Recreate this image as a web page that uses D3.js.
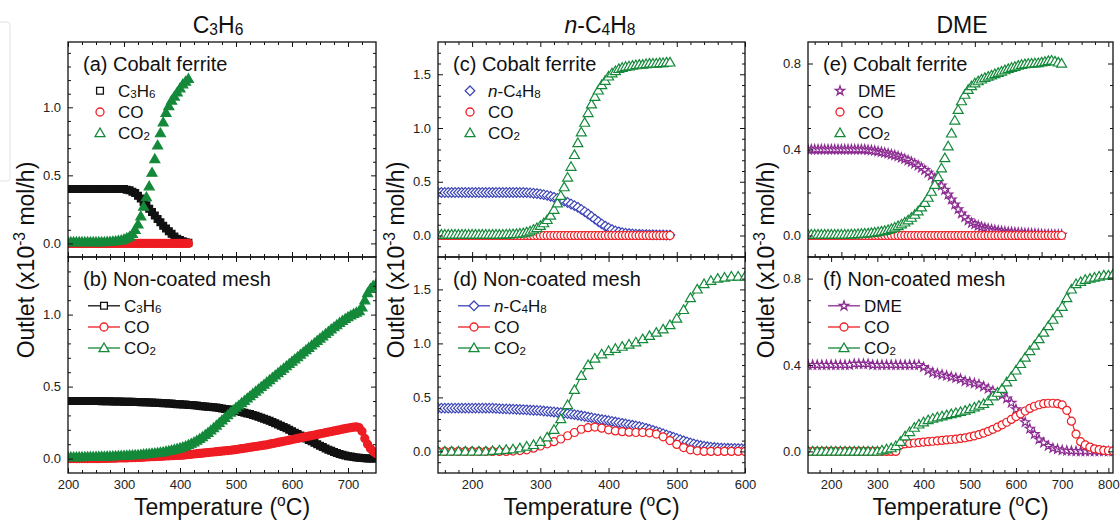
<!DOCTYPE html>
<html><head><meta charset="utf-8">
<script src="https://cdn.jsdelivr.net/npm/d3@7"></script>
<style>
body{margin:0;background:#fff;}
svg{display:block;font-family:"Liberation Sans",Arial,sans-serif;}
text{white-space:pre;}
</style></head><body>
<svg id="chart" width="1120" height="520"></svg>
<script>
// ---------------- DATA ----------------
// Panel (a) C3H6, cobalt ferrite (temperature grid, degC)
const tempA = d3.range(200, 416, 5);
const aC3H6 = [0.40,0.40,0.40,0.40,0.40,0.40,0.40,0.40,0.40,0.40,
  0.40,0.40,0.40,0.40,0.40,0.40,0.40,0.40,0.40,0.40,
  0.40,0.395,0.39,0.38,0.37,0.35,0.33,0.305,0.28,0.255,
  0.23,0.205,0.18,0.155,0.13,0.11,0.09,0.07,0.05,0.035,
  0.025,0.015,0.008,0.004];
const aCO = [0,0,0,0,0,0,0,0,0,0,
  0,0,0,0,0,0,0,0,0,0,
  0,0,0,0,0,0,0,0,0,0,
  0,0,0,0,0,0,0,0,0,0,
  0,0,0,0];
const aCO2 = [0.01,0.01,0.01,0.01,0.01,0.01,0.01,0.01,0.01,0.01,
  0.01,0.01,0.01,0.01,0.012,0.013,0.015,0.017,0.02,0.023,
  0.03,0.04,0.05,0.07,0.1,0.14,0.2,0.27,0.34,0.42,
  0.52,0.62,0.72,0.81,0.89,0.96,1.01,1.05,1.08,1.11,
  1.14,1.17,1.19,1.21];

// Panel (b) C3H6, non-coated mesh
const tempB = d3.range(200, 751, 5);
const bC3H6 = [0.40,0.40,0.40,0.40,0.40,0.40,0.40,0.40,0.40,0.40,
  0.40,0.40,0.399,0.399,0.398,0.398,0.397,0.397,0.396,0.396,
  0.395,0.395,0.394,0.394,0.393,0.393,0.392,0.392,0.391,0.39,
  0.389,0.388,0.387,0.386,0.385,0.384,0.383,0.382,0.38,0.378,
  0.377,0.376,0.375,0.373,0.372,0.37,0.368,0.366,0.364,0.362,
  0.36,0.358,0.356,0.354,0.351,0.348,0.345,0.342,0.339,0.336,
  0.332,0.328,0.324,0.319,0.314,0.309,0.303,0.297,0.291,0.284,
  0.277,0.27,0.262,0.254,0.246,0.237,0.228,0.219,0.21,0.2,
  0.19,0.18,0.17,0.16,0.15,0.14,0.13,0.12,0.11,0.1,
  0.09,0.08,0.071,0.062,0.054,0.046,0.039,0.032,0.026,0.021,
  0.017,0.014,0.011,0.008,0.006,0.004,0.002,0.001,0,0,
  0];
const bCO = [0,0,0,0,0,0,0,0,0,0,
  0,0,0.001,0.001,0.002,0.002,0.003,0.003,0.004,0.004,
  0.005,0.005,0.006,0.006,0.007,0.008,0.009,0.01,0.011,0.012,
  0.013,0.014,0.015,0.016,0.017,0.018,0.019,0.02,0.021,0.022,
  0.023,0.024,0.026,0.028,0.03,0.032,0.034,0.036,0.038,0.04,
  0.042,0.044,0.046,0.048,0.05,0.052,0.054,0.056,0.058,0.06,
  0.063,0.066,0.069,0.072,0.075,0.078,0.081,0.084,0.087,0.09,
  0.093,0.096,0.1,0.104,0.108,0.112,0.116,0.12,0.124,0.128,
  0.132,0.136,0.14,0.144,0.148,0.152,0.156,0.16,0.164,0.168,
  0.172,0.176,0.18,0.184,0.188,0.192,0.196,0.2,0.204,0.208,
  0.212,0.215,0.218,0.22,0.215,0.19,0.14,0.1,0.07,0.05,
  0.035];
const bCO2 = [0.01,0.01,0.01,0.01,0.011,0.011,0.012,0.012,0.013,0.013,
  0.014,0.014,0.015,0.015,0.016,0.016,0.017,0.018,0.019,0.02,
  0.021,0.022,0.023,0.024,0.025,0.026,0.028,0.03,0.032,0.034,
  0.036,0.038,0.04,0.043,0.046,0.05,0.054,0.058,0.063,0.068,
  0.074,0.08,0.087,0.095,0.104,0.114,0.125,0.137,0.15,0.165,
  0.18,0.196,0.213,0.23,0.248,0.266,0.284,0.302,0.32,0.337,
  0.354,0.37,0.386,0.402,0.418,0.434,0.45,0.466,0.482,0.498,
  0.514,0.53,0.546,0.562,0.578,0.594,0.61,0.626,0.642,0.658,
  0.674,0.69,0.706,0.722,0.738,0.754,0.77,0.786,0.802,0.818,
  0.834,0.85,0.866,0.882,0.898,0.913,0.928,0.943,0.957,0.97,
  0.983,0.995,1.005,1.015,1.025,1.05,1.1,1.15,1.18,1.2,
  1.21];

// Panel (c) n-C4H8, cobalt ferrite
const tempC = d3.range(150, 491, 5);
const cC4H8 = [0.40,0.40,0.40,0.40,0.40,0.40,0.40,0.40,0.40,0.40,
  0.40,0.40,0.40,0.40,0.40,0.40,0.40,0.40,0.40,0.40,
  0.40,0.40,0.40,0.40,0.40,0.40,0.398,0.396,0.393,0.39,
  0.385,0.38,0.373,0.365,0.355,0.345,0.333,0.32,0.307,0.293,
  0.278,0.262,0.243,0.222,0.2,0.177,0.153,0.13,0.108,0.088,
  0.07,0.055,0.043,0.034,0.027,0.022,0.018,0.015,0.013,0.011,
  0.01,0.009,0.008,0.007,0.006,0.005,0.005,0.004,0.004];
const cCO = [0,0,0,0,0,0,0,0,0,0,
  0,0,0,0,0,0,0,0,0,0,
  0,0,0,0,0,0,0,0,0,0,
  0,0,0,0,0,0,0,0,0,0,
  0,0,0,0,0,0,0,0,0,0,
  0,0,0,0,0,0,0,0,0,0,
  0,0,0,0,0,0,0,0,0];
const cCO2 = [0.01,0.01,0.01,0.01,0.01,0.01,0.01,0.01,0.01,0.01,
  0.01,0.01,0.01,0.01,0.01,0.01,0.01,0.01,0.01,0.01,
  0.011,0.012,0.013,0.015,0.018,0.022,0.03,0.04,0.055,0.07,
  0.09,0.115,0.145,0.185,0.24,0.3,0.37,0.45,0.54,0.64,
  0.75,0.86,0.96,1.05,1.14,1.22,1.29,1.35,1.4,1.44,
  1.48,1.51,1.53,1.55,1.56,1.57,1.575,1.58,1.585,1.59,
  1.59,1.595,1.6,1.6,1.6,1.605,1.605,1.61,1.61];

// Panel (d) n-C4H8, non-coated mesh
const tempD5 = d3.range(150, 601, 5);
const tempD10 = d3.range(150, 601, 10);
const dC4H8 = [0.40,0.40,0.40,0.40,0.40,0.40,0.40,0.40,0.40,0.40,
  0.40,0.40,0.40,0.40,0.40,0.40,0.40,0.398,0.396,0.394,
  0.393,0.392,0.391,0.39,0.388,0.387,0.385,0.383,0.381,0.379,
  0.377,0.374,0.371,0.368,0.365,0.362,0.358,0.354,0.35,0.345,
  0.34,0.335,0.33,0.325,0.318,0.312,0.306,0.3,0.295,0.29,
  0.284,0.278,0.272,0.266,0.26,0.254,0.248,0.242,0.236,0.23,
  0.222,0.214,0.205,0.195,0.185,0.175,0.164,0.153,0.142,0.131,
  0.12,0.109,0.098,0.088,0.078,0.069,0.061,0.054,0.048,0.043,
  0.039,0.036,0.033,0.031,0.03,0.029,0.028,0.027,0.026,0.025,
  0.025];
const dCO = [0,0,0,0,0,0,0,0,0,0,
  0,0.003,0.008,0.015,0.03,0.05,0.07,0.09,0.115,0.145,
  0.175,0.205,0.22,0.225,0.215,0.2,0.19,0.183,0.178,0.175,
  0.175,0.172,0.16,0.135,0.1,0.065,0.035,0.015,0.005,0,
  0,0,0,0,0,0];
const dCO2 = [0,0,0,0,0,0,0,0,0.005,0.01,
  0.015,0.02,0.03,0.045,0.06,0.09,0.13,0.2,0.3,0.43,
  0.57,0.7,0.8,0.86,0.9,0.93,0.95,0.97,0.99,1.01,
  1.04,1.07,1.1,1.13,1.17,1.23,1.31,1.42,1.5,1.55,
  1.58,1.6,1.61,1.62,1.62,1.62];

// Panel (e) DME, cobalt ferrite
const tempE = d3.range(150, 531, 5);
const eDME = [0.40,0.40,0.40,0.40,0.40,0.40,0.40,0.40,0.40,0.40,
  0.40,0.40,0.40,0.40,0.40,0.40,0.40,0.40,0.398,0.396,
  0.394,0.391,0.388,0.385,0.381,0.377,0.373,0.368,0.362,0.356,
  0.349,0.342,0.334,0.325,0.315,0.304,0.292,0.279,0.265,0.25,
  0.232,0.212,0.19,0.167,0.144,0.122,0.102,0.085,0.07,0.058,
  0.052,0.045,0.04,0.035,0.031,0.028,0.025,0.022,0.02,0.018,
  0.016,0.015,0.014,0.013,0.012,0.011,0.01,0.009,0.008,0.007,
  0.006,0.005,0.005,0.004,0.004,0.003,0.003];
const eCO = [0,0,0,0,0,0,0,0,0,0,
  0,0,0,0,0,0,0,0,0,0,
  0,0,0,0,0,0,0,0,0,0,
  0,0,0,0,0,0,0,0,0,0,
  0,0,0,0,0,0,0,0,0,0,
  0,0,0,0,0,0,0,0,0,0,
  0,0,0,0,0,0,0,0,0,0,
  0,0,0,0,0,0,0];
const eCO2 = [0.005,0.005,0.005,0.005,0.005,0.005,0.005,0.005,0.005,0.005,
  0.005,0.005,0.005,0.006,0.006,0.007,0.008,0.009,0.01,0.012,
  0.014,0.016,0.019,0.022,0.026,0.031,0.037,0.044,0.052,0.061,
  0.071,0.083,0.097,0.113,0.131,0.152,0.176,0.204,0.236,0.272,
  0.313,0.36,0.415,0.475,0.535,0.585,0.625,0.655,0.678,0.695,
  0.708,0.718,0.726,0.733,0.739,0.745,0.751,0.757,0.763,0.769,
  0.775,0.78,0.785,0.79,0.794,0.797,0.799,0.8,0.801,0.802,
  0.805,0.808,0.812,0.814,0.81,0.805,0.80];

// Panel (f) DME, non-coated mesh
const tempF = d3.range(150, 811, 10);
const fDME = [0.40,0.40,0.40,0.40,0.40,0.40,0.40,0.40,0.40,0.40,
  0.405,0.405,0.405,0.405,0.40,0.40,0.40,0.40,0.40,0.40,
  0.40,0.40,0.40,0.40,0.40,0.39,0.375,0.365,0.36,0.355,
  0.35,0.345,0.34,0.335,0.325,0.32,0.315,0.31,0.30,0.29,
  0.28,0.27,0.26,0.245,0.225,0.195,0.165,0.135,0.105,0.08,
  0.055,0.04,0.025,0.015,0.01,0.005,0.003,0.002,0.001,0,
  0,0,0,0,0,0,0];
const fCO = [0,0,0,0,0,0,0,0,0,0,
  0,0,0,0,0,0,0,0,0,0,
  0.03,0.035,0.037,0.039,0.041,0.043,0.045,0.047,0.049,0.051,
  0.053,0.055,0.057,0.06,0.063,0.067,0.072,0.078,0.085,0.093,
  0.102,0.112,0.123,0.135,0.148,0.161,0.174,0.187,0.199,0.209,
  0.216,0.221,0.223,0.223,0.221,0.215,0.19,0.14,0.08,0.045,
  0.03,0.02,0.012,0.008,0.005,0.003,0.002];
const fCO2 = [0,0,0,0,0,0,0,0,0,0,
  0,0,0,0,0,0,0.005,0.01,0.015,0.025,
  0.045,0.07,0.09,0.11,0.125,0.135,0.145,0.152,0.158,0.163,
  0.168,0.173,0.178,0.183,0.189,0.196,0.204,0.212,0.22,0.233,
  0.255,0.272,0.29,0.32,0.345,0.375,0.405,0.435,0.465,0.49,
  0.52,0.55,0.58,0.61,0.64,0.67,0.71,0.75,0.775,0.785,
  0.795,0.8,0.805,0.81,0.815,0.815,0.82];

// Text
const columnTitles = ["C_3H_6", "~n~-C_4H_8", "DME"];
const panelLabels = ["(a) Cobalt ferrite","(b) Non-coated mesh","(c) Cobalt ferrite","(d) Non-coated mesh","(e) Cobalt ferrite","(f) Non-coated mesh"];
const yTitle = "Outlet (x10^{-3} mol/h)";
const xTitle = "Temperature (^{o}C)";

// ---------------- STYLE / LAYOUT ----------------
const C = {black:"#111111", red:"#ee1d23", green:"#14893a", blue:"#3d45b8", purple:"#8b2a91"};
const cols = [[68,376],[438,745],[808,1113]];
const rows = [[42,257],[257,473]];
const titleX = [218, 600, 962];

// fill: "solid" = marker filled with series colour (very dense overlapping symbols)
const panels = [
 {col:0,row:0,label:panelLabels[0],xd:[200,750],yd:[-0.1,1.48],xM:100,xm:25,yM:0.5,ym:0.1,showX:false,lines:false,fill:"solid",sw:1.2,
  series:[{n:"C_3H_6",s:"square",c:C.black,x:tempA,y:aC3H6},{n:"CO",s:"circle",c:C.red,x:tempA,y:aCO},{n:"CO_2",s:"triangle",c:C.green,x:tempA,y:aCO2}]},
 {col:0,row:1,label:panelLabels[1],xd:[200,750],yd:[-0.1,1.4],xM:100,xm:25,yM:0.5,ym:0.1,showX:true,lines:true,fill:"solid",sw:1.2,
  series:[{n:"C_3H_6",s:"square",c:C.black,x:tempB,y:bC3H6},{n:"CO",s:"circle",c:C.red,x:tempB,y:bCO},{n:"CO_2",s:"triangle",c:C.green,x:tempB,y:bCO2}]},
 {col:1,row:0,label:panelLabels[2],xd:[150,600],yd:[-0.2,1.8],xM:100,xm:20,yM:0.5,ym:0.1,showX:false,lines:false,fill:"#fff",sw:1.2,
  series:[{n:"~n~-C_4H_8",s:"diamond",c:C.blue,x:tempC,y:cC4H8},{n:"CO",s:"circle",c:C.red,x:tempC,y:cCO},{n:"CO_2",s:"triangle",c:C.green,x:tempC,y:cCO2}]},
 {col:1,row:1,label:panelLabels[3],xd:[150,600],yd:[-0.2,1.8],xM:100,xm:20,yM:0.5,ym:0.1,showX:true,lines:true,fill:"#fff",sw:1.2,
  series:[{n:"~n~-C_4H_8",s:"diamond",c:C.blue,x:tempD5,y:dC4H8},{n:"CO",s:"circle",c:C.red,x:tempD10,y:dCO},{n:"CO_2",s:"triangle",c:C.green,x:tempD10,y:dCO2}]},
 {col:2,row:0,label:panelLabels[4],xd:[150,607],yd:[-0.1,0.9],xM:100,xm:20,yM:0.4,ym:0.1,showX:false,lines:false,fill:"#fff",sw:1.2,
  series:[{n:"DME",s:"star",c:C.purple,x:tempE,y:eDME},{n:"CO",s:"circle",c:C.red,x:tempE,y:eCO},{n:"CO_2",s:"triangle",c:C.green,x:tempE,y:eCO2}]},
 {col:2,row:1,label:panelLabels[5],xd:[150,810],yd:[-0.1,0.9],xM:100,xm:25,yM:0.4,ym:0.1,showX:true,lines:true,fill:"#fff",sw:1.2,
  series:[{n:"DME",s:"star",c:C.purple,x:tempF,y:fDME},{n:"CO",s:"circle",c:C.red,x:tempF,y:fCO},{n:"CO_2",s:"triangle",c:C.green,x:tempF,y:fCO2}]}
];

// ---------------- HELPERS ----------------
function parseRich(str){
  const segs=[]; let i=0, ital=false;
  while(i<str.length){
    const ch=str[i];
    if(ch==='~'){ital=!ital;i++;continue;}
    if(ch==='_'){segs.push({t:str[i+1],m:'sub',ital});i+=2;continue;}
    if(ch==='^'){const j=str.indexOf('}',i);segs.push({t:str.slice(i+2,j),m:'sup',ital});i=j+1;continue;}
    let j=i; while(j<str.length && !'~_^'.includes(str[j])) j++;
    segs.push({t:str.slice(i,j),m:'n',ital}); i=j;
  }
  return segs;
}
function rich(sel, str, size){
  let off=0;
  parseRich(str).forEach(s=>{
    const target = s.m==='sub'? size*0.08 : s.m==='sup'? -size*0.4 : 0;
    const ts = sel.append('tspan').text(s.t).attr('dy', (target-off).toFixed(2));
    off = target;
    if(s.m!=='n') ts.attr('font-size', (size*0.68).toFixed(1));
    if(s.ital) ts.attr('font-style','italic');
  });
  return sel;
}
function markerPath(shape){
  switch(shape){
    case 'square': return "M-3.4,-3.4H3.4V3.4H-3.4Z";
    case 'circle': return "M4,0A4,4 0 1,1 -4,0A4,4 0 1,1 4,0Z";
    case 'triangle': return "M0,-5L5,3.6L-5,3.6Z";
    case 'diamond': return "M0,-4.8L4.8,0L0,4.8L-4.8,0Z";
    case 'star': return d3.symbol(d3.symbolStar, 26)();
  }
}
function tickVals(dom, step){
  const a=Math.ceil(dom[0]/step-1e-9), b=Math.floor(dom[1]/step+1e-9);
  return d3.range(a,b+1).map(k=>+(k*step).toFixed(6));
}

const svg = d3.select('#chart');
svg.append('rect').attr('width',1120).attr('height',520).attr('fill','#fff');
// faint screenshot frame artefact at far left
svg.append('rect').attr('x',-20).attr('y',22).attr('width',30).attr('height',159).attr('rx',3)
  .attr('fill','none').attr('stroke','#e2e2e2').attr('stroke-width',1);

panels.forEach((p,pi)=>{
  const [L,R]=cols[p.col], [T,B]=rows[p.row];
  const x=d3.scaleLinear().domain(p.xd).range([L,R]);
  const y=d3.scaleLinear().domain(p.yd).range([B,T]);
  const g=svg.append('g');
  const cid='clip'+pi;
  svg.append('clipPath').attr('id',cid).append('rect').attr('x',L).attr('y',T).attr('width',R-L).attr('height',B-T);
  const plot=g.append('g').attr('clip-path',`url(#${cid})`);
  p.series.forEach(s=>{
    const pts=s.x.map((t,i)=>[t,s.y[i]]).filter(d=>d[1]!==undefined);
    if(p.lines){
      plot.append('path').datum(pts).attr('d',d3.line().x(d=>x(d[0])).y(d=>y(d[1])))
        .attr('fill','none').attr('stroke',s.c).attr('stroke-width',1.2);
    }
    plot.append('g').selectAll('path').data(pts).join('path')
      .attr('transform',d=>`translate(${x(d[0]).toFixed(2)},${y(d[1]).toFixed(2)})`)
      .attr('d',markerPath(s.s)).attr('fill',p.fill==='solid'?s.c:p.fill).attr('stroke',s.c).attr('stroke-width',p.sw);
  });

  // axes (major + minor, ticks inward on all four sides)
  const xMaj=tickVals(p.xd,p.xM).filter(v=>v>=p.xd[0]&&v<=p.xd[1]);
  const xMin=tickVals(p.xd,p.xm).filter(v=>v>p.xd[0]&&v<p.xd[1]&&!xMaj.some(m=>Math.abs(m-v)<1e-6));
  const yMaj=tickVals(p.yd,p.yM).filter(v=>v>=p.yd[0]&&v<p.yd[1]);
  const yMin=tickVals(p.yd,p.ym).filter(v=>v>p.yd[0]&&v<p.yd[1]&&!yMaj.some(m=>Math.abs(m-v)<1e-6));
  const styleAxis=sel=>{
    sel.select('.domain').remove();
    sel.selectAll('line').attr('stroke','#111').attr('stroke-width',1);
    sel.selectAll('text').attr('font-family','"Liberation Sans",Arial,sans-serif').attr('font-size',13).attr('fill','#222');
  };
  const add=(axis,tr)=>g.append('g').attr('transform',tr).call(axis).call(styleAxis);
  add(d3.axisBottom(x).tickValues(xMaj).tickSizeInner(-5).tickSizeOuter(0).tickPadding(7).tickFormat(p.showX?d3.format('d'):()=>''),`translate(0,${B})`);
  add(d3.axisBottom(x).tickValues(xMin).tickSizeInner(-3).tickSizeOuter(0).tickFormat(()=>''),`translate(0,${B})`);
  add(d3.axisTop(x).tickValues(xMaj).tickSizeInner(-5).tickSizeOuter(0).tickFormat(()=>''),`translate(0,${T})`);
  add(d3.axisTop(x).tickValues(xMin).tickSizeInner(-3).tickSizeOuter(0).tickFormat(()=>''),`translate(0,${T})`);
  add(d3.axisLeft(y).tickValues(yMaj).tickSizeInner(-5).tickSizeOuter(0).tickPadding(7).tickFormat(d3.format('.1f')),`translate(${L},0)`);
  add(d3.axisLeft(y).tickValues(yMin).tickSizeInner(-3).tickSizeOuter(0).tickFormat(()=>''),`translate(${L},0)`);
  add(d3.axisRight(y).tickValues(yMaj).tickSizeInner(-5).tickSizeOuter(0).tickFormat(()=>''),`translate(${R},0)`);
  add(d3.axisRight(y).tickValues(yMin).tickSizeInner(-3).tickSizeOuter(0).tickFormat(()=>''),`translate(${R},0)`);

  g.append('rect').attr('x',L).attr('y',T).attr('width',R-L).attr('height',B-T)
    .attr('fill','none').attr('stroke','#111').attr('stroke-width',1.3);

  // panel label
  g.append('text').attr('x',L+15).attr('y',T+29).attr('font-size',20).attr('fill','#111').text(p.label);

  // legend
  const rowsY=[48.8,70,91];
  p.series.forEach((s,i)=>{
    const cy=T+rowsY[i];
    const mx = p.lines? L+36 : L+32;
    if(p.lines){
      g.append('line').attr('x1',L+20).attr('x2',L+52).attr('y1',cy).attr('y2',cy).attr('stroke',s.c).attr('stroke-width',1.3);
    }
    g.append('path').attr('transform',`translate(${mx},${cy})`).attr('d',markerPath(s.s))
      .attr('fill','#fff').attr('stroke',s.c).attr('stroke-width',1.3);
    const tx = p.lines? L+56 : L+50;
    rich(g.append('text').attr('x',tx).attr('y',cy+6).attr('font-size',17).attr('fill','#111'), s.n, 17);
  });
});

// column titles, axis titles
[0,1,2].forEach(ci=>{
  const [L,R]=cols[ci];
  rich(svg.append('text').attr('x',titleX[ci]).attr('y',33).attr('text-anchor','middle').attr('font-size',23).attr('fill','#111'), columnTitles[ci], 23);
  rich(svg.append('text').attr('x',(L+R)/2).attr('y',515).attr('text-anchor','middle').attr('font-size',23).attr('fill','#111'), xTitle, 23);
  rich(svg.append('text').attr('transform',`translate(${L-34},260) rotate(-90)`).attr('text-anchor','middle').attr('font-size',23).attr('fill','#111'), yTitle, 23);
});
</script>
</body></html>
